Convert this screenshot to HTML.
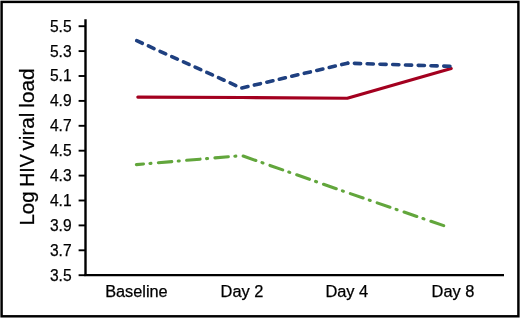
<!DOCTYPE html>
<html><head><meta charset="utf-8"><title>Log HIV viral load</title>
<style>
html,body{margin:0;padding:0;background:#fff;}
body{width:520px;height:318px;overflow:hidden;}
svg{display:block;}
text{font-family:"Liberation Sans",Arial,sans-serif;fill:#000;stroke:#000;stroke-width:0.25px;}
</style></head>
<body>
<svg width="520" height="318" viewBox="0 0 520 318">
<rect x="1.6" y="1.9" width="516.8" height="314.4" fill="#fff" stroke="#000" stroke-width="2.45"/>
<!-- axes -->
<g stroke="#000" fill="none">
<line x1="85.5" y1="19.2" x2="85.5" y2="275.5" stroke-width="2.4"/>
<line x1="84.3" y1="275.1" x2="504" y2="275.1" stroke-width="2.3"/>
<g stroke-width="1.9">
<line x1="78.6" y1="26.2" x2="85.5" y2="26.2"/>
<line x1="78.6" y1="51.1" x2="85.5" y2="51.1"/>
<line x1="78.6" y1="76" x2="85.5" y2="76"/>
<line x1="78.6" y1="100.9" x2="85.5" y2="100.9"/>
<line x1="78.6" y1="125.8" x2="85.5" y2="125.8"/>
<line x1="78.6" y1="150.7" x2="85.5" y2="150.7"/>
<line x1="78.6" y1="175.6" x2="85.5" y2="175.6"/>
<line x1="78.6" y1="200.5" x2="85.5" y2="200.5"/>
<line x1="78.6" y1="225.4" x2="85.5" y2="225.4"/>
<line x1="78.6" y1="250.3" x2="85.5" y2="250.3"/>
<line x1="78.6" y1="275.2" x2="85.5" y2="275.2"/>
</g>
</g>
<!-- y tick labels -->
<g font-size="16.3" text-anchor="end">
<text x="71.6" y="31.6" textLength="21.7" lengthAdjust="spacingAndGlyphs">5.5</text>
<text x="71.6" y="56.5" textLength="21.7" lengthAdjust="spacingAndGlyphs">5.3</text>
<text x="71.6" y="81.4" textLength="21.7" lengthAdjust="spacingAndGlyphs">5.1</text>
<text x="71.6" y="106.3" textLength="21.7" lengthAdjust="spacingAndGlyphs">4.9</text>
<text x="71.6" y="131.2" textLength="21.7" lengthAdjust="spacingAndGlyphs">4.7</text>
<text x="71.6" y="156.1" textLength="21.7" lengthAdjust="spacingAndGlyphs">4.5</text>
<text x="71.6" y="181" textLength="21.7" lengthAdjust="spacingAndGlyphs">4.3</text>
<text x="71.6" y="205.9" textLength="21.7" lengthAdjust="spacingAndGlyphs">4.1</text>
<text x="71.6" y="230.8" textLength="21.7" lengthAdjust="spacingAndGlyphs">3.9</text>
<text x="71.6" y="255.7" textLength="21.7" lengthAdjust="spacingAndGlyphs">3.7</text>
<text x="71.6" y="280.6" textLength="21.7" lengthAdjust="spacingAndGlyphs">3.5</text>
</g>
<!-- y axis title -->
<g font-size="20">
<text transform="translate(34.4 225.6) rotate(-90)" textLength="34.2" lengthAdjust="spacingAndGlyphs">Log</text>
<text transform="translate(34.4 186.8) rotate(-90)" textLength="32.7" lengthAdjust="spacingAndGlyphs">HIV</text>
<text transform="translate(34.4 150.5) rotate(-90)" textLength="37.9" lengthAdjust="spacingAndGlyphs">viral</text>
<text transform="translate(34.4 107.7) rotate(-90)" textLength="39.3" lengthAdjust="spacingAndGlyphs">load</text>
</g>
<!-- x labels -->
<g font-size="16" text-anchor="middle">
<text x="136.4" y="296.9" textLength="62.5" lengthAdjust="spacingAndGlyphs">Baseline</text>
<text x="242" y="297.3" textLength="42.8" lengthAdjust="spacingAndGlyphs">Day 2</text>
<text x="346.8" y="297.3" textLength="42.8" lengthAdjust="spacingAndGlyphs">Day 4</text>
<text x="453" y="297.3" textLength="42.8" lengthAdjust="spacingAndGlyphs">Day 8</text>
</g>
<!-- data -->
<g fill="none" stroke-linecap="round" stroke-linejoin="round">
<polyline points="137.8,97.1 242,97.5 347.3,98.3 451.2,68.5" stroke="#a3001f" stroke-width="3.1"/>
<g stroke="#1f4080" stroke-width="3.6">
<line x1="136.7" y1="40.7" x2="241.5" y2="88.1" stroke-dasharray="6.22 6.6"/>
<line x1="241.5" y1="88.1" x2="347.6" y2="63.2" stroke-dasharray="6.22 6.6" stroke-dashoffset="-0.4"/>
<line x1="347.6" y1="63.2" x2="450" y2="66.3" stroke-dasharray="6.2 6.57" stroke-dashoffset="5.97"/>
</g>
<polyline points="136.4,164.6 242,155.6 347,192.5 444.4,225.9" stroke="#62a63c" stroke-width="3.1" stroke-dasharray="13.5 6.5 1 7.4" stroke-dashoffset="6.4"/>
</g>
</svg>
</body></html>
